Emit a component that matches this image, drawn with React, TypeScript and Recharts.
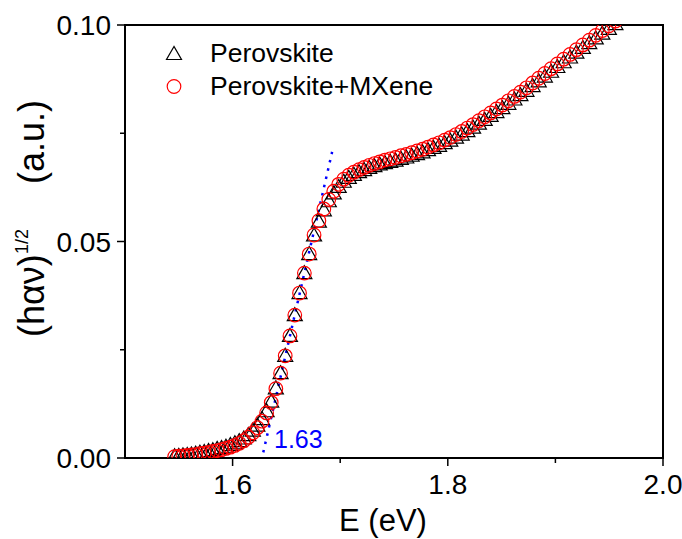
import {
  ScatterChart,
  Scatter,
  XAxis,
  YAxis,
  ReferenceArea,
  ReferenceLine,
  ReferenceDot,
  Legend,
} from "recharts";

// photon energy (eV) of each measured point
const energy = [
  1.5461, 1.55, 1.5539, 1.5578, 1.5617, 1.5657, 1.5696, 1.5736, 1.5776, 1.5816,
  1.5857, 1.5897, 1.5938, 1.5979, 1.6021, 1.6062, 1.6104, 1.6146, 1.6188, 1.623,
  1.6273, 1.6316, 1.6359, 1.6402, 1.6446, 1.6489, 1.6533, 1.6578, 1.6622, 1.6667,
  1.6712, 1.6757, 1.6802, 1.6848, 1.6894, 1.694, 1.6986, 1.7033, 1.708, 1.7127,
  1.7175, 1.7222, 1.727, 1.7318, 1.7367, 1.7416, 1.7465, 1.7514, 1.7564, 1.7614,
  1.7664, 1.7714, 1.7765, 1.7816, 1.7867, 1.7919, 1.7971, 1.8023, 1.8076, 1.8129,
  1.8182, 1.8235, 1.8289, 1.8343, 1.8398, 1.8452, 1.8507, 1.8563, 1.8619, 1.8675,
  1.8731, 1.8788, 1.8845, 1.8902, 1.896, 1.9018, 1.9077, 1.9136, 1.9195, 1.9255,
  1.9315, 1.9375, 1.9436, 1.9497, 1.9558, 1.962,
];

const perovskite = [
  0.0004, 0.0005, 0.0006, 0.0007, 0.0008, 0.001, 0.0012, 0.0014, 0.0016, 0.0018,
  0.0021, 0.0023, 0.0026, 0.003, 0.0034, 0.0039, 0.0045, 0.0053, 0.0063, 0.0075,
  0.009, 0.0108, 0.013, 0.0161, 0.0196, 0.0236, 0.0282, 0.033, 0.0381, 0.0427,
  0.0471, 0.0514, 0.0546, 0.0572, 0.0593, 0.0611, 0.0626, 0.0638, 0.0647, 0.0654,
  0.066, 0.0665, 0.067, 0.0674, 0.0678, 0.0681, 0.0684, 0.0687, 0.0691, 0.0694,
  0.0698, 0.0702, 0.0706, 0.0711, 0.0716, 0.0721, 0.0727, 0.0733, 0.074, 0.0747,
  0.0755, 0.0763, 0.0772, 0.0781, 0.079, 0.0799, 0.0808, 0.0818, 0.0828, 0.0838,
  0.0848, 0.0859, 0.087, 0.0881, 0.0892, 0.0903, 0.0914, 0.0925, 0.0936, 0.0947,
  0.0958, 0.0969, 0.098, 0.0991, 0.1002, 0.1013,
];

const perovskiteMXene = [
  0.0003, 0.0004, 0.0005, 0.0006, 0.0007, 0.0008, 0.001, 0.0011, 0.0013, 0.0015,
  0.0017, 0.0019, 0.0022, 0.0025, 0.0029, 0.0034, 0.004, 0.0048, 0.0058, 0.007,
  0.0085, 0.0104, 0.0128, 0.016, 0.0196, 0.0236, 0.0282, 0.033, 0.0381, 0.0427,
  0.0471, 0.0515, 0.0548, 0.0575, 0.0597, 0.0616, 0.0632, 0.0644, 0.0653, 0.066,
  0.0666, 0.0671, 0.0676, 0.068, 0.0684, 0.0688, 0.0691, 0.0694, 0.0698, 0.0701,
  0.0705, 0.0709, 0.0713, 0.0718, 0.0723, 0.0728, 0.0734, 0.074, 0.0747, 0.0754,
  0.0762, 0.077, 0.0779, 0.0788, 0.0797, 0.0806, 0.0815, 0.0825, 0.0835, 0.0845,
  0.0855, 0.0866, 0.0877, 0.0888, 0.0899, 0.091, 0.0921, 0.0932, 0.0943, 0.0954,
  0.0965, 0.0976, 0.0987, 0.0998, 0.1009, 0.102,
];

const seriesNames = ["Perovskite", "Perovskite+MXene"];

// tangent used for the band-gap extrapolation
const fitLine = [
  { x: 1.6285, y: 0.0013 },
  { x: 1.6925, y: 0.0707 },
];
const onset = { x: 1.6385, y: 0.0044, label: "1.63" };

const xTicks = [1.6, 1.7, 1.8, 1.9, 2.0];
const xLabeled = [1.6, 1.8, 2.0];
const yTicks = [0, 0.025, 0.05, 0.075, 0.1];
const yLabeled = [0, 0.05, 0.1];

const perovskiteRows = energy.map((x, i) => ({ x, y: perovskite[i] }));
const mxeneRows = energy.map((x, i) => ({ x, y: perovskiteMXene[i] }));

const isIn = (list: number[], v: number) => list.some((t) => Math.abs(t - v) < 1e-6);

function Triangle({ cx, cy }: { cx: number; cy: number }) {
  return (
    <polygon
      points={`${cx},${cy - 7.5} ${cx - 7.5},${cy + 5.5} ${cx + 7.5},${cy + 5.5}`}
      fill="none"
      stroke="#000"
      strokeWidth={1.2}
    />
  );
}

function Ring({ cx, cy }: { cx: number; cy: number }) {
  return <circle cx={cx} cy={cy} r={6.8} fill="none" stroke="#ff0000" strokeWidth={1.2} />;
}

function XTick(props: any) {
  const { x, y, payload } = props;
  const major = isIn(xLabeled, payload.value);
  return (
    <g>
      <line x1={x} x2={x} y1={y} y2={y + (major ? 8 : 5)} stroke="#000" strokeWidth={1.5} />
      {major && (
        <text x={x} y={y + 36} textAnchor="middle" fontSize={28} fill="#000">
          {payload.value.toFixed(1)}
        </text>
      )}
    </g>
  );
}

function YTick(props: any) {
  const { x, y, payload } = props;
  const major = isIn(yLabeled, payload.value);
  return (
    <g>
      <line x1={x - (major ? 8 : 5)} x2={x} y1={y} y2={y} stroke="#000" strokeWidth={1.5} />
      {major && (
        <text x={x - 14} y={y} dy="0.36em" textAnchor="end" fontSize={28} fill="#000">
          {payload.value.toFixed(2)}
        </text>
      )}
    </g>
  );
}

function LegendBox(props: any) {
  const { payload = [] } = props;
  return (
    <div>
      {payload.map((entry: any) => (
        <div key={entry.value} style={{ display: "flex", alignItems: "center", height: 33 }}>
          <svg width={28} height={33}>
            {entry.value === seriesNames[0] ? <Triangle cx={14} cy={17} /> : <Ring cx={14} cy={16.5} />}
          </svg>
          <span style={{ marginLeft: 22, fontSize: 26.5, color: "#000", lineHeight: "33px" }}>{entry.value}</span>
        </div>
      ))}
    </div>
  );
}

// rotated y title: screen y = 337 - (x - 44)
function YTitle() {
  return (
    <text x={44} y={337} transform="rotate(-90 44 337)" fontSize={36} fill="#000">
      <tspan x={44}>(hαν)</tspan>
      <tspan x={127} dy={-16} fontSize={18}>
        1/2
      </tspan>
      <tspan x={197} dy={16}>
        (a.u.)
      </tspan>
    </text>
  );
}

export default function App() {
  return (
    <div
      style={{
        position: "absolute",
        left: 0,
        top: 0,
        width: 682,
        height: 539,
        background: "#fff",
        fontFamily: "'Liberation Sans', Arial, sans-serif",
      }}
    >
      <ScatterChart width={682} height={539} margin={{ top: 25, right: 19, bottom: 21, left: 25 }}>
        <XAxis
          type="number"
          dataKey="x"
          domain={[1.5, 2.0]}
          allowDataOverflow
          ticks={xTicks}
          interval={0}
          height={60}
          tickSize={0}
          tickMargin={0}
          tickLine={false}
          axisLine={false}
          tick={<XTick />}
          label={{
            content: (p: any) => {
              const vb = p.viewBox;
              return (
                <text x={vb.x + vb.width / 2 - 11} y={531} textAnchor="middle" fontSize={31} fill="#000">
                  E (eV)
                </text>
              );
            },
          }}
        />
        <YAxis
          type="number"
          dataKey="y"
          domain={[0, 0.1]}
          allowDataOverflow
          ticks={yTicks}
          interval={0}
          width={100}
          tickSize={0}
          tickMargin={0}
          tickLine={false}
          axisLine={false}
          tick={<YTick />}
          label={{ content: () => <YTitle /> }}
        />
        <ReferenceArea x1={1.5} x2={2.0} y1={0} y2={0.1} fill="none" stroke="#000" strokeWidth={2} />
        <Scatter
          name={seriesNames[0]}
          data={perovskiteRows}
          isAnimationActive={false}
          shape={(p: any) => <Triangle cx={p.cx} cy={p.cy} />}
        />
        <Scatter
          name={seriesNames[1]}
          data={mxeneRows}
          isAnimationActive={false}
          shape={(p: any) => <Ring cx={p.cx} cy={p.cy} />}
        />
        <ReferenceLine
          segment={fitLine}
          stroke="#0000ff"
          strokeWidth={2.5}
          strokeDasharray="2.5 6"
          ifOverflow="visible"
        />
        <ReferenceDot
          x={onset.x}
          y={onset.y}
          r={0}
          fill="none"
          stroke="none"
          label={{ value: onset.label, position: "right", offset: 0, fill: "#0000ff", fontSize: 25 }}
        />
        <Legend
          layout="vertical"
          align="center"
          verticalAlign="middle"
          content={<LegendBox />}
          wrapperStyle={{ left: 160, top: 37, width: 330, height: 70 }}
        />
      </ScatterChart>
    </div>
  );
}
